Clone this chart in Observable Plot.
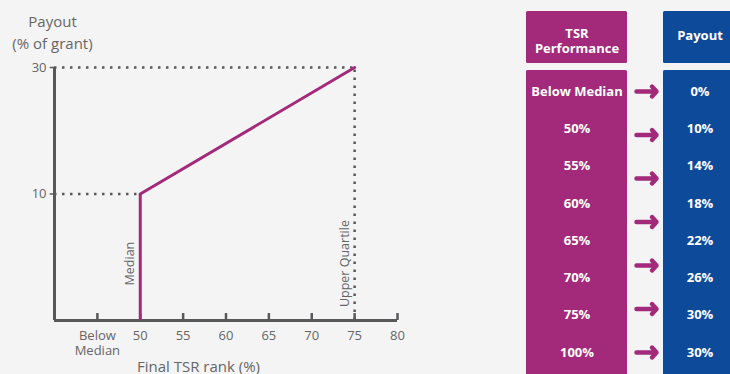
<!DOCTYPE html>
<html>
<head>
<meta charset="utf-8">
<script src="https://cdn.jsdelivr.net/npm/d3@7"></script>
<script src="https://cdn.jsdelivr.net/npm/@observablehq/plot@0.6"></script>
<style>
  html, body { margin: 0; padding: 0; background: #f5f4f5; width: 730px; height: 374px; overflow: hidden; }
  #wrap { position: relative; width: 730px; height: 374px; overflow: hidden; font-family: "Open Sans", sans-serif; }
  #left { position: absolute; left: 0; top: 0; width: 520px; height: 374px; }
  #right { position: absolute; left: 520px; top: 0; width: 220px; height: 374px; }
  svg { max-width: none !important; }
</style>
</head>
<body>
<div id="wrap"><div id="left"></div><div id="right"></div></div>
<script>
// ---- Data ----
// Payout curve (final TSR rank %, payout % of grant)
const curveRank = [50, 75];
const curvePayout = [10, 30];
// x-axis ticks and labels
const xTicks = [45, 50, 55, 60, 65, 70, 75, 80];
const xTickLabels = ["Below\nMedian", "50", "55", "60", "65", "70", "75", "80"];
// y-axis ticks
const yTicks = [10, 30];
// reference markers
const markerRank = [50, 75];
const markerLabels = ["Median", "Upper Quartile"];
// table
const headers = ["TSR\nPerformance", "Payout"];
const tsrPerformance = ["Below Median", "50%", "55%", "60%", "65%", "70%", "75%", "100%"];
const payoutValues = ["0%", "10%", "14%", "18%", "22%", "26%", "30%", "30%"];
const arrowCount = 7;

const MAGENTA = "#a3297a";
const BLUE = "#0e4a9a";
const AXIS = "#58585b";
const TEXT = "#666666";

// ---- Left chart ----
const curve = curveRank.map((r, i) => ({rank: r, payout: curvePayout[i]}));
const markers = markerRank.map((r, i) => ({rank: r, label: markerLabels[i]}));
const xTickData = xTicks.map((t, i) => ({t, label: xTickLabels[i]}));
const yMin = -10;
const xMin = 40, xMax = 80;

const left = Plot.plot({
  width: 520,
  height: 374,
  marginTop: 0, marginRight: 0, marginBottom: 0, marginLeft: 0,
  x: {domain: [xMin, xMax], range: [54, 397], axis: null},
  y: {domain: [yMin, 30], range: [320, 67], axis: null},
  style: {background: "transparent", fontFamily: "'Open Sans', sans-serif", color: TEXT},
  marks: [
    // dotted guides
    Plot.ruleY([curve[1]], {y: "payout", x1: xMin, x2: "rank", stroke: AXIS, strokeWidth: 2.5, strokeDasharray: "2.5,5.5"}),
    Plot.ruleY([curve[0]], {y: "payout", x1: xMin, x2: "rank", stroke: AXIS, strokeWidth: 2.5, strokeDasharray: "2.5,5.5"}),
    Plot.ruleX([markers[1]], {x: "rank", y1: yMin, y2: 30, stroke: AXIS, strokeWidth: 2.5, strokeDasharray: "2.5,5.5"}),
    // axis lines
    Plot.ruleY([yMin], {x1: xMin, x2: xMax, stroke: AXIS, strokeWidth: 3}),
    Plot.ruleX([xMin], {y1: yMin, y2: 30, stroke: AXIS, strokeWidth: 3}),
    // inward x ticks
    Plot.ruleX(xTicks, {x: d => d, y1: yMin, y2: yMin + 1.1, stroke: AXIS, strokeWidth: 2.5}),
    // x tick labels
    Plot.text(xTickData, {x: "t", y: yMin, text: "label", dy: 9, lineAnchor: "top", lineHeight: 1.15, fontSize: 13, fill: TEXT}),
    // y ticks + labels
    Plot.ruleY(yTicks, {y: d => d, x1: xMin - 0.5, x2: xMin, stroke: AXIS, strokeWidth: 1.5}),
    Plot.text(yTicks, {y: d => d, x: xMin, text: d => String(d), dx: -8, textAnchor: "end", fontSize: 13, fill: TEXT}),
    // payout curve
    Plot.ruleX([curve[0]], {x: "rank", y1: yMin, y2: "payout", stroke: MAGENTA, strokeWidth: 3}),
    Plot.line(curve, {x: "rank", y: "payout", stroke: MAGENTA, strokeWidth: 3}),
    // marker labels
    Plot.text(markers, {x: "rank", y: -1, text: "label", rotate: -90, dx: -10, fontSize: 12.5, fill: TEXT}),
    // titles
    Plot.text(["Payout\n(% of grant)"], {frameAnchor: "top-left", dx: 52, dy: 11, textAnchor: "middle", lineAnchor: "top", lineHeight: 1.45, fontSize: 15, fill: TEXT}),
    Plot.text(["Final TSR rank (%)"], {frameAnchor: "bottom-left", dx: 198, dy: -3, textAnchor: "middle", lineAnchor: "bottom", fontSize: 15, fill: TEXT})
  ]
});
document.getElementById("left").appendChild(left);

// ---- Right table ----
const halfWidths = [0.4106, 0.2967]; // column half-widths in column units (layout)
const cols = headers.map((h, i) => ({col: i, header: h, fill: i === 0 ? MAGENTA : BLUE, half: halfWidths[i]}));
const rows = tsrPerformance.map((t, i) => ({row: i, tsr: t, payout: payoutValues[i]}));
const arrows = d3.range(arrowCount).map(i => i * (tsrPerformance.length - 1) / (arrowCount - 1));

const right = Plot.plot({
  width: 220,
  height: 374,
  marginTop: 0, marginRight: 0, marginBottom: 0, marginLeft: 0,
  x: {domain: [0, 1], range: [56.5, 179.5], axis: null},
  y: {domain: [0, 7], range: [91, 352], axis: null},
  style: {background: "transparent", fontFamily: "'Open Sans', sans-serif"},
  marks: [
    Plot.rect(cols, {x1: d => d.col - d.half, x2: d => d.col + d.half, y1: -2.146, y2: -0.751, fill: "fill", rx: 1.5}),
    Plot.rect(cols, {x1: d => d.col - d.half, x2: d => d.col + d.half, y1: -0.563, y2: 8, fill: "fill", rx: 1.5}),
    Plot.text(cols, {x: "col", y: d => d.col === 0 ? -1.36 : -1.5, text: "header", fill: "white", fontWeight: "bold", fontSize: 13, lineHeight: 1.1}),
    Plot.text(rows, {x: 0, y: "row", text: "tsr", fill: "white", fontWeight: "bold", fontSize: 13}),
    Plot.text(rows, {x: 1, y: "row", text: "payout", fill: "white", fontWeight: "bold", fontSize: 13}),
    Plot.arrow(arrows, {x1: 0.4837, x2: 0.6463, y1: d => d, y2: d => d, stroke: MAGENTA, strokeWidth: 4.5, headLength: 9, headAngle: 95})
  ]
});
document.getElementById("right").appendChild(right);
</script>
</body>
</html>
